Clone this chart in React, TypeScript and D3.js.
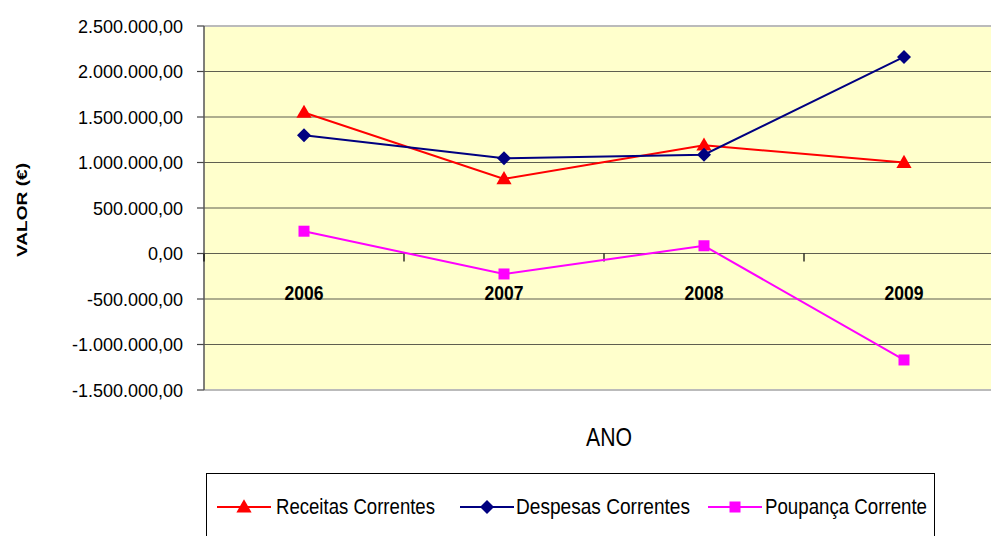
import React from "react";
import * as d3 from "d3";

const years = ["2006", "2007", "2008", "2009"];
const receitas = [1550000, 820000, 1190000, 1000000];
const despesas = [1300000, 1046000, 1085000, 2160000];
const poupanca = [245000, -225000, 85000, -1170000];
const yTicks = [-1500000, -1000000, -500000, 0, 500000, 1000000, 1500000, 2000000, 2500000];

const W = 991;
const H = 536;
const PL = 204, PR = 1004, PT = 26, PB = 390;

const fmt = (v: number) => {
  const neg = v < 0;
  const a = Math.abs(v);
  const s = Math.floor(a).toString().replace(/\B(?=(\d{3})+(?!\d))/g, ".");
  return (neg ? "-" : "") + s + ",00";
};

type Marker = "tri" | "dia" | "sq";

function MarkerShape({ type, x, y, color }: { type: Marker; x: number; y: number; color: string }) {
  if (type === "tri") {
    const p = d3.symbol(d3.symbolTriangle, 100)();
    return <path d={p || ""} transform={`translate(${x},${y + 1})`} fill={color} />;
  }
  if (type === "dia") {
    const s = 7;
    return <path d={`M${x},${y - s}L${x + s},${y}L${x},${y + s}L${x - s},${y}Z`} fill={color} />;
  }
  const s = 5.5;
  return <rect x={x - s} y={y - s} width={2 * s} height={2 * s} fill={color} />;
}

const series: { name: string; values: number[]; color: string; marker: Marker; lx: number; tx: number; tl: number }[] = [
  { name: "Receitas Correntes", values: receitas, color: "#FF0000", marker: "tri", lx: 217, tx: 276, tl: 159 },
  { name: "Despesas Correntes", values: despesas, color: "#000080", marker: "dia", lx: 460, tx: 516, tl: 174 },
  { name: "Poupança Corrente", values: poupanca, color: "#FF00FF", marker: "sq", lx: 708, tx: 765, tl: 162 },
];

export default function App() {
  const x = d3.scaleBand<string>().domain(years).range([PL, PR]);
  const y = d3.scaleLinear().domain([-1500000, 2500000]).range([PB, PT]);
  const cx = (c: string) => (x(c) || 0) + x.bandwidth() / 2;
  const line = d3
    .line<number>()
    .x((_, i) => cx(years[i]))
    .y((d) => y(d));
  const font = "'Liberation Sans', Arial, sans-serif";

  return (
    <svg width={W} height={H} style={{ position: "absolute", left: 0, top: 0 }} fontFamily={font}>
      <rect x={0} y={0} width={W} height={H} fill="#fff" />
      <rect x={PL} y={PT} width={PR - PL} height={PB - PT} fill="#FFFFCC" />
      {yTicks.map((t) => (
        <g key={t}>
          {t !== 2500000 && t !== -1500000 && (
            <line x1={PL} x2={PR} y1={y(t)} y2={y(t)} stroke="#5f5f50" strokeWidth={1.2} />
          )}
          <line x1={PL - 7} x2={PL} y1={y(t)} y2={y(t)} stroke="#444" strokeWidth={1.2} />
          <text x={183} y={y(t) + 6.5} textAnchor="end" fontSize={18} fill="#000">
            {fmt(t)}
          </text>
        </g>
      ))}
      <line x1={PL} x2={PR} y1={PT} y2={PT} stroke="#bbb" strokeWidth={2} />
      <line x1={PL} x2={PR} y1={PB} y2={PB} stroke="#bbb" strokeWidth={2} />
      <line x1={PL} x2={PL} y1={PT} y2={PB} stroke="#555" strokeWidth={1.5} />
      {[PL, ...years.slice(1).map((c) => x(c) || 0)].map((xx, i) => (
        <line key={i} x1={xx} x2={xx} y1={y(0)} y2={y(0) + 8} stroke="#000" strokeWidth={1.2} />
      ))}
      {years.map((c) => (
        <text key={c} x={cx(c)} y={300} textAnchor="middle" fontSize={20.5} fontWeight="bold" textLength={39} lengthAdjust="spacingAndGlyphs">
          {c}
        </text>
      ))}
      {series.map((s) => (
        <g key={s.name}>
          <path d={line(s.values) || ""} fill="none" stroke={s.color} strokeWidth={2} />
          {s.values.map((v, i) => (
            <MarkerShape key={i} type={s.marker} x={cx(years[i])} y={y(v)} color={s.color} />
          ))}
        </g>
      ))}
      <text transform="translate(27,210) rotate(-90)" textAnchor="middle" fontSize={15} fontWeight="bold" textLength={94} lengthAdjust="spacingAndGlyphs">
        VALOR (€)
      </text>
      <text x={609} y={446} textAnchor="middle" fontSize={26} textLength={46} lengthAdjust="spacingAndGlyphs">
        ANO
      </text>
      <rect x={206.5} y={473.5} width={728} height={80} fill="#fff" stroke="#000" strokeWidth={1} />
      {series.map((s) => (
        <g key={s.name}>
          <line x1={s.lx} x2={s.lx + 54} y1={507} y2={507} stroke={s.color} strokeWidth={2} />
          <MarkerShape type={s.marker} x={s.lx + 27} y={507} color={s.color} />
          <text x={s.tx} y={514} fontSize={22} textLength={s.tl} lengthAdjust="spacingAndGlyphs">
            {s.name}
          </text>
        </g>
      ))}
    </svg>
  );
}
